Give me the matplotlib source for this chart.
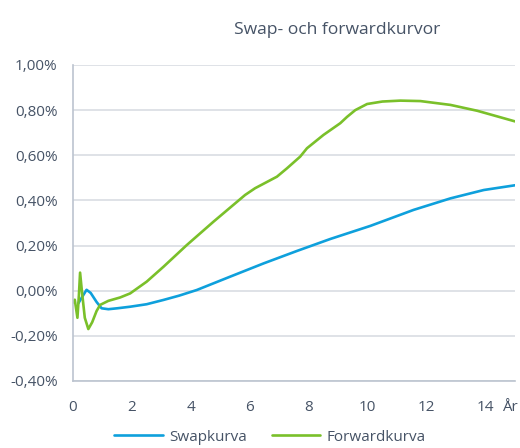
import matplotlib
matplotlib.use("Agg")
import matplotlib.pyplot as plt
import matplotlib.transforms as mtransforms
from matplotlib.ticker import FuncFormatter, FixedLocator

# Data (values in percent)
swap_x = [0.18, 0.3, 0.46, 0.6, 0.8, 0.97, 1.2, 1.5, 1.94, 2.5, 3.07, 3.6, 4.2,
          5.33, 6.47, 7.6, 8.73, 10.09, 11.56, 12.81, 13.94, 15.0]
swap_y = [-0.056, -0.03, 0.004, -0.01, -0.05, -0.078, -0.082, -0.078, -0.071, -0.06,
          -0.041, -0.022, 0.003, 0.062, 0.121, 0.176, 0.229, 0.287, 0.358, 0.409,
          0.446, 0.467]

fwd_x = [0.01, 0.06, 0.15, 0.2, 0.24, 0.3, 0.4, 0.52, 0.65, 0.8, 0.92, 1.2, 1.6,
         1.94, 2.5, 3.07, 3.86, 4.77, 5.84, 6.18, 6.92, 7.26, 7.71, 7.94, 8.5, 9.07,
         9.3, 9.58, 9.98, 10.5, 11.11, 11.79, 12.81, 13.72, 15.0]
fwd_y = [-0.052, -0.04, -0.12, -0.02, 0.08, 0.0, -0.12, -0.17, -0.14, -0.09, -0.063,
         -0.045, -0.03, -0.012, 0.04, 0.106, 0.202, 0.306, 0.424, 0.454, 0.505, 0.542,
         0.594, 0.631, 0.69, 0.742, 0.77, 0.80, 0.827, 0.838, 0.842, 0.840, 0.823,
         0.797, 0.750]

x_ticks = [0, 2, 4, 6, 8, 10, 12, 14]
x_tick_labels = ["0", "2", "4", "6", "8", "10", "12", "14"]
y_ticks = [-0.4, -0.2, 0.0, 0.2, 0.4, 0.6, 0.8, 1.0]

title = "Swap- och forwardkurvor"
series_names = ["Swapkurva", "Forwardkurva"]
x_unit = "År"

text_color = "#465366"
grid_color = "#D9DDE3"
spine_color = "#BCC4CF"
blue = "#0EA0DC"
green = "#7AC02A"

plt.rcParams['font.family'] = ['Open Sans', 'DejaVu Sans']

fig = plt.figure(figsize=(5.2, 4.48), dpi=100)
ax = fig.add_axes([0.1404, 0.1496, 0.850, 0.7054])

ax.plot(swap_x, swap_y, color=blue, lw=1.9, label=series_names[0], solid_capstyle='round')
ax.plot(fwd_x, fwd_y, color=green, lw=1.9, label=series_names[1], solid_capstyle='round')

ax.set_xlim(0, 15)
ax.set_ylim(-0.4, 1.0)
ax.xaxis.set_major_locator(FixedLocator(x_ticks))
ax.set_xticklabels(x_tick_labels)
ax.yaxis.set_major_locator(FixedLocator(y_ticks))
ax.yaxis.set_major_formatter(FuncFormatter(lambda v, p: f"{v:.2f}%".replace(".", ",").replace("-0,00", "0,00")))

ax.grid(axis='y', color=grid_color, lw=1.2)
ax.set_axisbelow(True)
for s in ['top', 'right']:
    ax.spines[s].set_visible(False)
for s in ['left', 'bottom']:
    ax.spines[s].set_color(spine_color)
    ax.spines[s].set_linewidth(1.2)

ax.tick_params(axis='both', length=0, colors=text_color, labelsize=11)
ax.tick_params(axis='x', pad=14)
ax.tick_params(axis='y', pad=11)

txt = ax.text(15.1, -0.4, x_unit, ha='right', va='top', fontsize=11, color=text_color)
txt.set_transform(ax.transData + mtransforms.ScaledTranslation(0, -14/72, fig.dpi_scale_trans))

fig.text(337/520, 1 - 30/448, title, ha='center', va='center', fontsize=12.6, color=text_color)

fig.legend(loc='center', bbox_to_anchor=(270/520, 1 - 437/448), ncol=2, frameon=False,
           fontsize=11, labelcolor=text_color, handlelength=3.2, columnspacing=1.6,
           handletextpad=0.4)

fig.savefig("out.png", dpi=100)
